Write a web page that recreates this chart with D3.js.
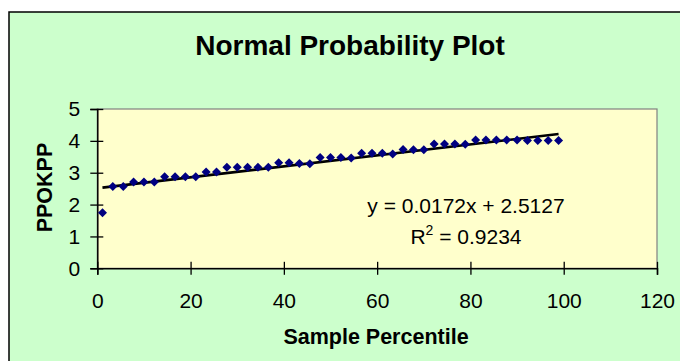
<!DOCTYPE html>
<html>
<head>
<meta charset="utf-8">
<script src="https://cdn.jsdelivr.net/npm/d3@7"></script>
<style>
  html, body { margin: 0; padding: 0; background: #ffffff; }
  svg { display: block; }
  text { font-family: "Liberation Sans", Arial, sans-serif; }
</style>
</head>
<body>
<svg id="chart" width="680" height="361"></svg>
<script>
// ---- data ----
const samplePercentile = [1.11, 3.33, 5.56, 7.78, 10.00, 12.22, 14.44, 16.67, 18.89, 21.11,
  23.33, 25.56, 27.78, 30.00, 32.22, 34.44, 36.67, 38.89, 41.11, 43.33,
  45.56, 47.78, 50.00, 52.22, 54.44, 56.67, 58.89, 61.11, 63.33, 65.56,
  67.78, 70.00, 72.22, 74.44, 76.67, 78.89, 81.11, 83.33, 85.56, 87.78,
  90.00, 92.22, 94.44, 96.67, 98.89];
const ppokpp = [1.74, 2.57, 2.57, 2.71, 2.71, 2.71, 2.87, 2.87, 2.87, 2.87,
  3.02, 3.02, 3.17, 3.17, 3.17, 3.17, 3.17, 3.31, 3.31, 3.29,
  3.28, 3.48, 3.48, 3.48, 3.46, 3.61, 3.61, 3.61, 3.59, 3.73,
  3.72, 3.72, 3.90, 3.90, 3.90, 3.89, 4.03, 4.03, 4.03, 4.03,
  4.03, 4.01, 4.01, 4.01, 4.01];
const xTicks = [0, 20, 40, 60, 80, 100, 120];
const yTicks = [0, 1, 2, 3, 4, 5];
const trendSlope = 0.0172;
const trendIntercept = 2.5127;
const rSquared = 0.9234;
const titleText = "Normal Probability Plot";
const xTitle = "Sample Percentile";
const yTitle = "PPOKPP";

// ---- layout ----
const svg = d3.select("#chart");
const plot = { left: 97.3, right: 657, top: 109, bottom: 268.3 };

// chart area
svg.append("rect").attr("x", 9).attr("y", 12).attr("width", 683).attr("height", 362)
  .attr("fill", "#CCFFCC").attr("stroke", "#000").attr("stroke-width", 1.5);

const x = d3.scaleLinear().domain([0, 120]).range([plot.left, plot.right]);
const y = d3.scaleLinear().domain([0, 5]).range([plot.bottom, plot.top]);

// plot area
svg.append("rect").attr("x", plot.left).attr("y", plot.top)
  .attr("width", plot.right - plot.left).attr("height", plot.bottom - plot.top)
  .attr("fill", "#FFFFCC").attr("stroke", "#808080").attr("stroke-width", 1.2);

// title
svg.append("text").attr("x", 350).attr("y", 55).attr("text-anchor", "middle")
  .attr("font-size", 28).attr("font-weight", "bold").attr("fill", "#000").text(titleText);

// axes
const gx = svg.append("g").attr("transform", `translate(0,${plot.bottom})`)
  .call(d3.axisBottom(x).tickValues(xTicks).tickSize(6.5).tickPadding(18).tickFormat(d3.format("d")));
gx.selectAll(".tick line").attr("y1", -6.5).attr("y2", 6.5);
const gy = svg.append("g").attr("transform", `translate(${plot.left},0)`)
  .call(d3.axisLeft(y).tickValues(yTicks).tickSize(7).tickPadding(10).tickFormat(d3.format("d")));
gy.selectAll(".tick line").attr("x1", 6);

[gx, gy].forEach(g => {
  g.select(".domain").attr("stroke", "#000").attr("stroke-width", 1.5);
  g.selectAll(".tick line").attr("stroke", "#000").attr("stroke-width", 1.3);
  g.selectAll(".tick text").attr("font-size", 21).attr("fill", "#000")
    .attr("font-family", '"Liberation Sans", Arial, sans-serif');
});

// axis titles
svg.append("text").attr("x", 376).attr("y", 344).attr("text-anchor", "middle")
  .attr("font-size", 21.5).attr("font-weight", "bold").text(xTitle);
svg.append("text").attr("transform", "translate(51.5,187.5) rotate(-90)").attr("text-anchor", "middle")
  .attr("font-size", 21.5).attr("font-weight", "bold").text(yTitle);

// trendline
const xExt = d3.extent(samplePercentile);
const line = d3.line().x(d => x(d)).y(d => y(trendSlope * d + trendIntercept));
svg.append("path").attr("d", line(xExt)).attr("fill", "none")
  .attr("stroke", "#000").attr("stroke-width", 2.6);

// points
const r = 4.5;
const data = samplePercentile.map((p, i) => ({ p, v: ppokpp[i] }));
svg.append("g").selectAll("path").data(data).join("path")
  .attr("d", `M0,${-r}L${r},0L0,${r}L${-r},0Z`)
  .attr("transform", d => `translate(${x(d.p)},${y(d.v)})`)
  .attr("fill", "#000080");

// equation
svg.append("text").attr("x", 466).attr("y", 213).attr("text-anchor", "middle")
  .attr("font-size", 21)
  .text(`y = ${trendSlope}x + ${trendIntercept}`);
const r2 = svg.append("text").attr("x", 466).attr("y", 243.5).attr("text-anchor", "middle")
  .attr("font-size", 21);
r2.append("tspan").text("R");
r2.append("tspan").attr("font-size", 14).attr("dy", -9).text("2");
r2.append("tspan").attr("dy", 9).text(` = ${rSquared}`);
</script>
</body>
</html>
